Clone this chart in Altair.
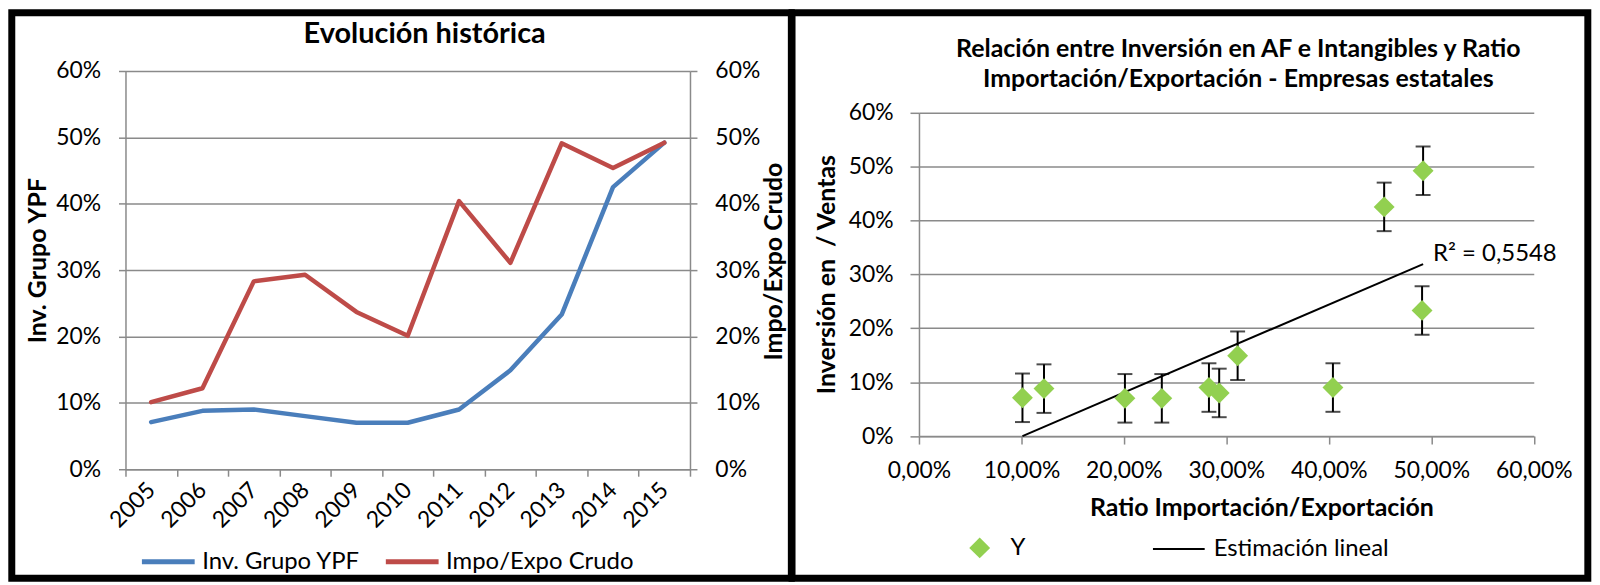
import altair as alt
import pandas as pd

# ---------------- data ----------------
years = ["2005", "2006", "2007", "2008", "2009", "2010", "2011", "2012", "2013", "2014", "2015"]
inv_grupo_ypf = [0.071, 0.088, 0.090, 0.080, 0.070, 0.070, 0.090, 0.149, 0.233, 0.425, 0.492]
impo_expo_crudo = [0.101, 0.122, 0.283, 0.293, 0.237, 0.201, 0.404, 0.311, 0.491, 0.454, 0.492]
line_series = ["Inv. Grupo YPF", "Impo/Expo Crudo"]
percent_ticks = [0.0, 0.1, 0.2, 0.3, 0.4, 0.5, 0.6]
scatter_series = ["Y", "Estimación lineal"]
error_amount = 0.045
r2_label = "R² = 0,5548"
left_title = "Evolución histórica"
right_title = ["Relación entre Inversión en AF e Intangibles y Ratio",
               "Importación/Exportación - Empresas estatales"]
left_y_title = "Inv. Grupo YPF"
left_y2_title = "Impo/Expo Crudo"
scatter_x_title = "Ratio Importación/Exportación"
scatter_y_title = "Inversión en \u00a0/ Ventas"

# ---------------- styles ----------------
FONT = "Lato"
GRAY = "#8A8A8A"
GREEN = "#92D050"
line_colors = ["#4A7EBB", "#BE4B48"]
W1, H1 = 567, 400
W2, H2 = 617.5, 366.7
Y2_TOP = 41.7
LABEL_FS = 23
TITLE_FS = 25
LEGEND_FS = 24

line_df = pd.DataFrame({
    "year": years * 2,
    "series": [line_series[0]] * len(years) + [line_series[1]] * len(years),
    "value": inv_grupo_ypf + impo_expo_crudo,
})
sc_df = pd.DataFrame({"x": impo_expo_crudo, "y": inv_grupo_ypf, "series": scatter_series[0]})


def frame(x1, x2, y1, y2):
    return alt.Chart(alt.Data(values=[{}])).mark_rect(
        fillOpacity=0, stroke="black", strokeWidth=7
    ).encode(x=alt.value(x1), x2=alt.value(x2), y=alt.value(y1), y2=alt.value(y2))


# ---------------- left chart ----------------
x_year = alt.X(
    "year:O", sort=years, bandPosition=0.5,
    scale=alt.Scale(type="band", paddingInner=0, paddingOuter=0),
    axis=alt.Axis(title=None, tickBand="extent", labelAngle=-45, labelAlign="right",
                  labelBaseline="middle", labelPadding=10, labelFontSize=LABEL_FS,
                  tickSize=7, tickColor=GRAY, tickWidth=1.5, domainColor=GRAY,
                  domainWidth=1.5, grid=False, labelOverlap=False),
)


def pct_axis(orient, title, tx, ty, grid):
    return alt.Axis(orient=orient, values=percent_ticks, format=".0%", title=title,
                    titleX=tx, titleY=ty, titleAngle=270, titleAlign="center",
                    titleBaseline="middle", titleFontSize=TITLE_FS, titleFontWeight="bold",
                    grid=grid, gridColor=GRAY, gridWidth=1.5, domainColor=GRAY,
                    domainWidth=1.5, tickColor=GRAY, tickWidth=1.5, tickSize=7,
                    labelPadding=18, labelFontSize=LABEL_FS)


line_color = alt.Color(
    "series:N", scale=alt.Scale(domain=line_series, range=line_colors),
    legend=alt.Legend(title=None, orient="none", legendX=14, legendY=464,
                      direction="horizontal", symbolType="stroke", symbolSize=2809,
                      symbolStrokeWidth=5, labelFontSize=LEGEND_FS, labelOffset=5,
                      columnPadding=15, labelLimit=400, padding=0),
)

base_lines = alt.Chart(line_df)
blue = base_lines.transform_filter(alt.datum.series == line_series[0]).mark_line(
    strokeWidth=4.5, strokeCap="round", strokeJoin="round"
).encode(x=x_year,
         y=alt.Y("value:Q", scale=alt.Scale(domain=[0, 0.6]),
                 axis=pct_axis("left", left_y_title, -88, 190, True)),
         color=line_color)
red = base_lines.transform_filter(alt.datum.series == line_series[1]).mark_line(
    strokeWidth=4.5, strokeCap="round", strokeJoin="round"
).encode(x=x_year,
         y=alt.Y("value:Q", scale=alt.Scale(domain=[0, 0.6]),
                 axis=pct_axis("right", left_y2_title, 84, 191, False)),
         color=line_color)

left = alt.layer(
    frame(-114.2, W1 + 101.8, -58.5, H1 + 109.5), blue, red
).resolve_scale(y="independent").properties(
    width=W1, height=H1,
    title=alt.TitleParams(left_title, fontSize=29, fontWeight="bold", anchor="middle",
                          frame="group", dx=17, offset=-40),
)

# ---------------- right chart ----------------
def x_sc(field):
    return alt.X(f"{field}:Q", scale=alt.Scale(domain=[0, 0.6]),
                 axis=alt.Axis(values=percent_ticks,
                               labelExpr="replace(format(datum.value, '.2%'), '.', ',')",
                               title=scatter_x_title, titleX=344, titleY=72,
                               titleAlign="center", titleBaseline="middle",
                               titleFontSize=TITLE_FS, titleFontWeight="bold", grid=False,
                               domainColor=GRAY, domainWidth=1.5, tickColor=GRAY,
                               tickWidth=1.5, tickSize=8, labelPadding=16,
                               labelFontSize=LABEL_FS, labelOverlap=False,
                               labelFlush=False))


def y_sc(field):
    return alt.Y(f"{field}:Q", scale=alt.Scale(domain=[0, 0.6], range=[H2, Y2_TOP]),
                 axis=alt.Axis(values=percent_ticks, format=".0%", title=scatter_y_title,
                               titleX=-93, titleY=204, titleAngle=270, titleAlign="center",
                               titleBaseline="middle", titleFontSize=TITLE_FS,
                               titleFontWeight="bold", grid=True, gridColor=GRAY,
                               gridWidth=1.5, domainColor=GRAY, domainWidth=1.5,
                               tickColor=GRAY, tickWidth=1.5, tickSize=9,
                               labelPadding=17, labelFontSize=LABEL_FS))


shape_enc = alt.Shape(
    "series:N", scale=alt.Scale(domain=[scatter_series[0]], range=["diamond"]),
    legend=alt.Legend(title=None, orient="none", legendX=49, legendY=467,
                      direction="horizontal", symbolSize=440, labelFontSize=LEGEND_FS,
                      labelOffset=19, labelLimit=400, padding=0),
)
trend_color = alt.Color(
    "series:N", scale=alt.Scale(domain=[scatter_series[1]], range=["black"]),
    legend=alt.Legend(title=None, orient="none", legendX=234, legendY=453,
                      direction="horizontal", symbolType="stroke", symbolSize=2700,
                      symbolStrokeWidth=2, labelFontSize=LEGEND_FS, labelOffset=8,
                      labelLimit=400, padding=0),
)

sc_base = alt.Chart(sc_df)
err_base = sc_base.transform_calculate(lo=f"datum.y - {error_amount}",
                                       hi=f"datum.y + {error_amount}")
err_rule = err_base.mark_rule(color="black", strokeWidth=2).encode(
    x=x_sc("x"), y=y_sc("lo"), y2=alt.Y2("hi:Q"))
cap_lo = err_base.mark_tick(orient="horizontal", color="black", thickness=2, size=15).encode(
    x=x_sc("x"), y=y_sc("lo"))
cap_hi = err_base.mark_tick(orient="horizontal", color="black", thickness=2, size=15).encode(
    x=x_sc("x"), y=y_sc("hi"))
trend = sc_base.transform_regression("x", "y").transform_calculate(
    series=f"'{scatter_series[1]}'"
).mark_line(strokeWidth=2).encode(x=x_sc("x"), y=y_sc("y"), color=trend_color)
points = sc_base.mark_point(filled=True, opacity=1, size=440, color=GREEN).encode(
    x=x_sc("x"), y=y_sc("y"), shape=shape_enc)
r2 = sc_base.transform_joinaggregate(xmax="max(x)").transform_regression(
    "x", "y", params=True, groupby=["xmax"]
).transform_calculate(
    xend="isValid(datum.xmax) ? datum.xmax : datum.keys[0]"
).transform_calculate(
    yend="datum.coef[0] + datum.coef[1] * datum.xend"
).mark_text(
    text=r2_label, align="left", baseline="middle", dx=10, dy=-10, fontSize=LEGEND_FS,
    color="black", font=FONT
).encode(x=x_sc("xend"), y=y_sc("yend"))

right = alt.layer(
    frame(-127.5, W2 + 54.3, -58.5, H2 + 142.8),
    err_rule, cap_lo, cap_hi, trend, points, r2,
).properties(
    width=W2, height=H2,
    title=alt.TitleParams(right_title, fontSize=TITLE_FS, fontWeight="bold", lineHeight=30,
                          anchor="middle", frame="group", dx=12, offset=-83),
)

chart = alt.hconcat(left, right, spacing=-7).resolve_scale(
    color="independent", shape="independent"
).resolve_legend(color="independent", shape="independent").properties(
    padding=0, background="white"
).configure_view(stroke=None).configure_axis(
    labelFont=FONT, titleFont=FONT, labelColor="black", titleColor="black"
).configure_legend(labelFont=FONT, labelColor="black").configure_title(
    font=FONT, color="black")

chart.save("out.html", embed_options={"renderer": "svg", "actions": False})
